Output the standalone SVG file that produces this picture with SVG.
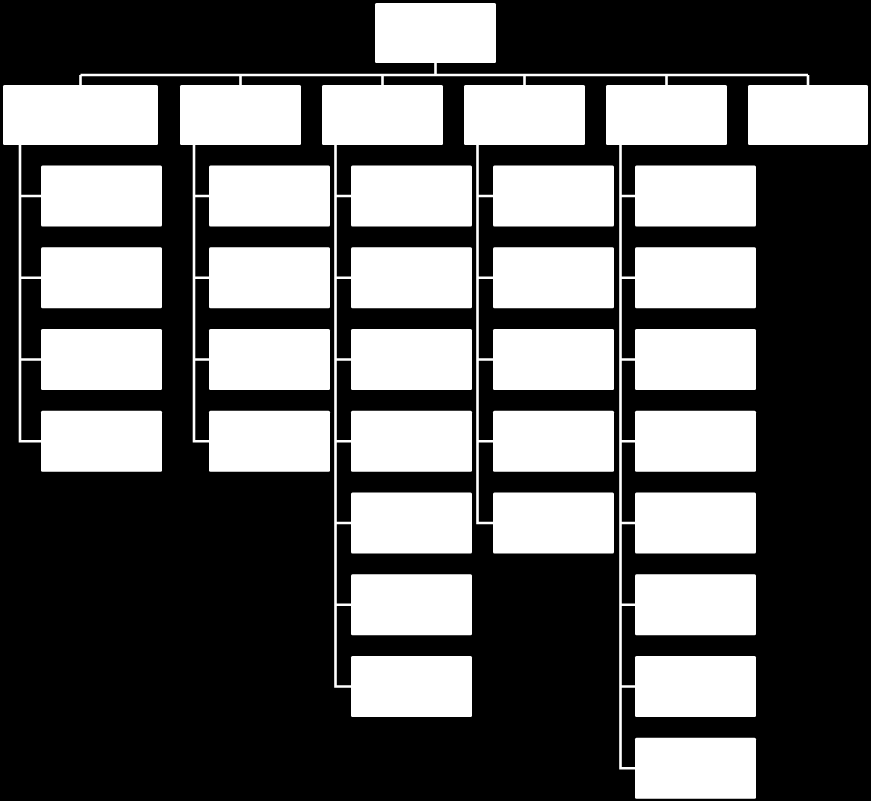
<svg xmlns="http://www.w3.org/2000/svg" width="871" height="801" viewBox="0 0 871 801">
<style>
.n{fill:#fff;stroke:none}
.c{fill:none;stroke:#fff;stroke-width:2.6}
</style>
<rect x="0" y="0" width="871" height="801" fill="#000"/>
<g id="connectors">
<path class="c" d="M435.5 63V75M80.5 75H808M80.5 75V85M240.5 75V85M382.5 75V85M524.5 75V85M666.5 75V85M808 75V85"/>
<path class="c" d="M20 145V441.25H41M20 196H41M20 277.75H41M20 359.5H41"/>
<path class="c" d="M194 145V441.25H209M194 196H209M194 277.75H209M194 359.5H209"/>
<path class="c" d="M335.5 145V686.5H351M335.5 196H351M335.5 277.75H351M335.5 359.5H351M335.5 441.25H351M335.5 523H351M335.5 604.75H351"/>
<path class="c" d="M477.5 145V523H493M477.5 196H493M477.5 277.75H493M477.5 359.5H493M477.5 441.25H493"/>
<path class="c" d="M620.5 145V768.25H635M620.5 196H635M620.5 277.75H635M620.5 359.5H635M620.5 441.25H635M620.5 523H635M620.5 604.75H635M620.5 686.5H635"/>
</g>
<g id="root"><rect class="n" x="375" y="3" width="121" height="60" rx="1.5"/></g>
<g id="p1"><rect class="n" x="3" y="85" width="155" height="60" rx="1.5"/></g>
<g id="p2"><rect class="n" x="180" y="85" width="121" height="60" rx="1.5"/></g>
<g id="p3"><rect class="n" x="322" y="85" width="121" height="60" rx="1.5"/></g>
<g id="p4"><rect class="n" x="464" y="85" width="121" height="60" rx="1.5"/></g>
<g id="p5"><rect class="n" x="606" y="85" width="121" height="60" rx="1.5"/></g>
<g id="p6"><rect class="n" x="748" y="85" width="120" height="60" rx="1.5"/></g>
<g id="c1-1"><rect class="n" x="41" y="165.5" width="121" height="61" rx="1.5"/></g>
<g id="c1-2"><rect class="n" x="41" y="247.25" width="121" height="61" rx="1.5"/></g>
<g id="c1-3"><rect class="n" x="41" y="329" width="121" height="61" rx="1.5"/></g>
<g id="c1-4"><rect class="n" x="41" y="410.75" width="121" height="61" rx="1.5"/></g>
<g id="c2-1"><rect class="n" x="209" y="165.5" width="121" height="61" rx="1.5"/></g>
<g id="c2-2"><rect class="n" x="209" y="247.25" width="121" height="61" rx="1.5"/></g>
<g id="c2-3"><rect class="n" x="209" y="329" width="121" height="61" rx="1.5"/></g>
<g id="c2-4"><rect class="n" x="209" y="410.75" width="121" height="61" rx="1.5"/></g>
<g id="c3-1"><rect class="n" x="351" y="165.5" width="121" height="61" rx="1.5"/></g>
<g id="c3-2"><rect class="n" x="351" y="247.25" width="121" height="61" rx="1.5"/></g>
<g id="c3-3"><rect class="n" x="351" y="329" width="121" height="61" rx="1.5"/></g>
<g id="c3-4"><rect class="n" x="351" y="410.75" width="121" height="61" rx="1.5"/></g>
<g id="c3-5"><rect class="n" x="351" y="492.5" width="121" height="61" rx="1.5"/></g>
<g id="c3-6"><rect class="n" x="351" y="574.25" width="121" height="61" rx="1.5"/></g>
<g id="c3-7"><rect class="n" x="351" y="656" width="121" height="61" rx="1.5"/></g>
<g id="c4-1"><rect class="n" x="493" y="165.5" width="121" height="61" rx="1.5"/></g>
<g id="c4-2"><rect class="n" x="493" y="247.25" width="121" height="61" rx="1.5"/></g>
<g id="c4-3"><rect class="n" x="493" y="329" width="121" height="61" rx="1.5"/></g>
<g id="c4-4"><rect class="n" x="493" y="410.75" width="121" height="61" rx="1.5"/></g>
<g id="c4-5"><rect class="n" x="493" y="492.5" width="121" height="61" rx="1.5"/></g>
<g id="c5-1"><rect class="n" x="635" y="165.5" width="121" height="61" rx="1.5"/></g>
<g id="c5-2"><rect class="n" x="635" y="247.25" width="121" height="61" rx="1.5"/></g>
<g id="c5-3"><rect class="n" x="635" y="329" width="121" height="61" rx="1.5"/></g>
<g id="c5-4"><rect class="n" x="635" y="410.75" width="121" height="61" rx="1.5"/></g>
<g id="c5-5"><rect class="n" x="635" y="492.5" width="121" height="61" rx="1.5"/></g>
<g id="c5-6"><rect class="n" x="635" y="574.25" width="121" height="61" rx="1.5"/></g>
<g id="c5-7"><rect class="n" x="635" y="656" width="121" height="61" rx="1.5"/></g>
<g id="c5-8"><rect class="n" x="635" y="737.75" width="121" height="61" rx="1.5"/></g>
</svg>
